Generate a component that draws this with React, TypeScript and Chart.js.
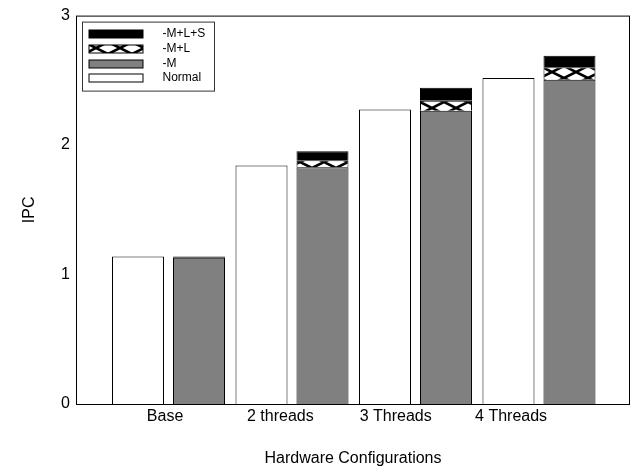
import React, { useEffect, useRef } from 'react';
import { Chart, registerables } from 'chart.js';

Chart.register(...registerables);

const CATEGORIES = ['Base', '2 threads', '3 Threads', '4 Threads'];
const NORMAL = [1.14, 1.842, 2.275, 2.518];
const MINUS_M = [1.13, 1.829, 2.265, 2.505];
const PLUS_L = [0.0, 0.054, 0.077, 0.097];
const PLUS_S = [0.01, 0.069, 0.1, 0.087];
const Y_TICKS = [0, 1, 2, 3];

// layout constants (label positions on the x scale, which differ from group centres in the original)
const X_MIN = -0.749;
const X_MAX = 3.737;
const X_LABEL_AT = [-0.028, 0.906, 1.84, 2.774];

const FONT = '"Liberation Sans", Arial, Helvetica, sans-serif';

function makeHatch(): CanvasPattern | string {
  const c = document.createElement('canvas');
  c.width = 24;
  c.height = 12;
  const g = c.getContext('2d');
  if (!g) return '#fff';
  g.fillStyle = '#fff';
  g.fillRect(0, 0, 24, 12);
  g.strokeStyle = '#000';
  g.lineWidth = 2.6;
  g.beginPath();
  g.moveTo(-2, -1);
  g.lineTo(26, 13);
  g.moveTo(-2, 13);
  g.lineTo(26, -1);
  g.stroke();
  return g.createPattern(c, 'repeat') || '#fff';
}

const framePlugin = {
  id: 'frameAndLegend',
  afterDraw(chart: any) {
    const ctx: CanvasRenderingContext2D = chart.ctx;
    const a = chart.chartArea;
    ctx.save();
    ctx.strokeStyle = '#000';
    ctx.lineWidth = 1;
    ctx.strokeRect(a.left + 0.5, a.top + 0.5, a.right - a.left - 1, a.bottom - a.top);
    // legend box
    const x0 = a.left + 6.5;
    const y0 = a.top + 6.5;
    const w = 132;
    const h = 69;
    ctx.fillStyle = '#fff';
    ctx.fillRect(x0, y0, w, h);
    ctx.strokeStyle = '#333';
    ctx.strokeRect(x0, y0, w, h);
    const ds = chart.data.datasets.slice().reverse();
    ds.forEach((d: any, i: number) => {
      const cy = Math.round(y0 + 12 + i * 14.7);
      ctx.fillStyle = d.backgroundColor;
      ctx.fillRect(x0 + 6.5, cy - 4, 54, 8);
      ctx.strokeStyle = '#000';
      ctx.lineWidth = 1;
      ctx.strokeRect(x0 + 6.5, cy - 4, 54, 8);
      ctx.fillStyle = '#000';
      ctx.font = `12px ${FONT}`;
      ctx.textBaseline = 'middle';
      ctx.textAlign = 'left';
      ctx.fillText(d.label, x0 + 80, cy);
    });
    ctx.restore();
  },
};

export default function App() {
  const ref = useRef<HTMLCanvasElement | null>(null);

  useEffect(() => {
    if (!ref.current) return;
    const hatch = makeHatch();
    const pts = (arr: number[]) => arr.map((v, i) => ({ x: i, y: v }));
    const chart = new Chart(ref.current, {
      type: 'bar',
      data: {
        datasets: [
          { label: 'Normal', data: pts(NORMAL), stack: 'a', backgroundColor: '#ffffff', borderColor: '#000', borderWidth: 1 },
          { label: '-M', data: pts(MINUS_M), stack: 'b', backgroundColor: '#808080', borderColor: '#000', borderWidth: 1 },
          { label: '-M+L', data: pts(PLUS_L), stack: 'b', backgroundColor: hatch as any, borderColor: '#000', borderWidth: 1 },
          { label: '-M+L+S', data: pts(PLUS_S), stack: 'b', backgroundColor: '#000000', borderColor: '#000', borderWidth: 1 },
        ] as any,
      },
      options: {
        responsive: false,
        animation: false,
        devicePixelRatio: 1,
        categoryPercentage: 122 / 115.35,
        barPercentage: 52 / 61,
        layout: { padding: { top: 12, right: 4, left: 0, bottom: 0 } },
        plugins: { legend: { display: false }, tooltip: { enabled: false } },
        scales: {
          x: {
            type: 'linear',
            offset: false,
            min: X_MIN,
            max: X_MAX,
            grid: { display: false, drawTicks: false, offset: false },
            border: { display: false },
            afterBuildTicks: (s: any) => {
              s.ticks = X_LABEL_AT.map((v) => ({ value: v }));
            },
            afterFit: (s: any) => {
              s.height = 64;
            },
            ticks: {
              autoSkip: false,
              maxRotation: 0,
              padding: 3,
              color: '#000',
              font: { family: FONT, size: 16 },
              callback: (_v: any, i: number) => CATEGORIES[i] ?? '',
            },
            title: {
              display: true,
              text: 'Hardware Configurations',
              color: '#000',
              font: { family: FONT, size: 16 },
              padding: { top: 1.5, bottom: 0 },
            },
          },
          y: {
            min: 0,
            max: 3,
            stacked: true,
            grid: { display: false, drawTicks: false },
            border: { display: false },
            afterBuildTicks: (s: any) => {
              s.ticks = Y_TICKS.map((v) => ({ value: v }));
            },
            afterFit: (s: any) => {
              s.width = 76;
            },
            ticks: {
              padding: 6,
              color: '#000',
              font: { family: FONT, size: 16 },
            },
            title: {
              display: true,
              text: 'IPC',
              color: '#000',
              font: { family: FONT, size: 16 },
              padding: { top: 19.5, bottom: 0 },
            },
          },
        },
      } as any,
      plugins: [framePlugin],
    });
    return () => chart.destroy();
  }, []);

  return (
    <div style={{ position: 'absolute', left: 0, top: 0, width: 634, height: 468, background: '#fff' }}>
      <canvas ref={ref} width={634} height={468} style={{ display: 'block' }} />
    </div>
  );
}
